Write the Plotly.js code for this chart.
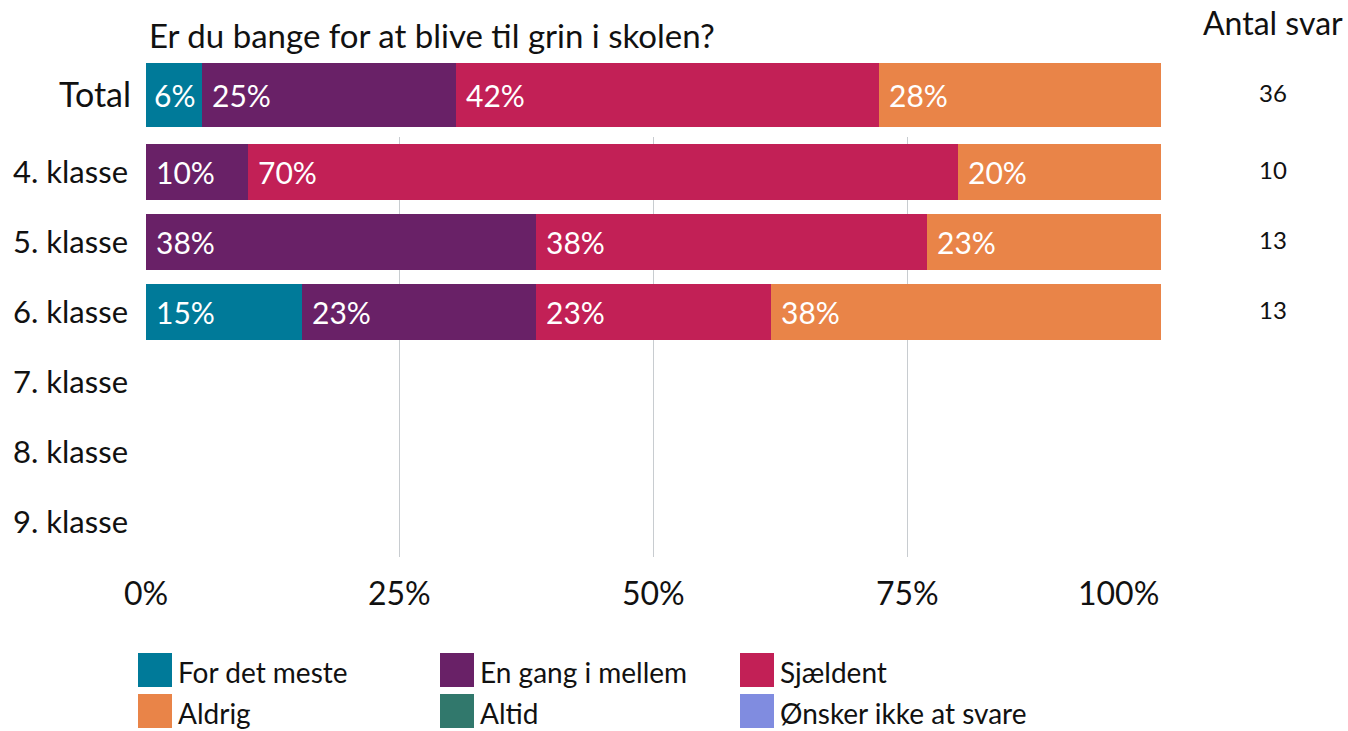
<!DOCTYPE html>
<html>
<head>
<meta charset="utf-8">
<script src="https://cdn.plot.ly/plotly-3.0.1.min.js"></script>
<style>html,body{margin:0;padding:0;background:#fff;}#chart{width:1348px;height:731px;}</style>
</head>
<body>
<div id="chart"></div>
<script>
// ---- data ----
const title = "Er du bange for at blive til grin i skolen?";
const classes = ["4. klasse", "5. klasse", "6. klasse", "7. klasse", "8. klasse", "9. klasse"];
const seriesNames = ["For det meste", "En gang i mellem", "Sjældent", "Aldrig", "Altid", "Ønsker ikke at svare"];
const seriesColors = ["#007A99", "#692167", "#C22056", "#E98448", "#31786C", "#808CE0"];
// percent per series: [Total] and per class (4.-9. klasse)
const totalValues = [5.56, 25.0, 41.67, 27.78, null, null];
const forDetMeste   = [null, null, 15.38, null, null, null];
const enGangIMellem = [10.0, 38.46, 23.08, null, null, null];
const sjaeldent     = [70.0, 38.46, 23.08, null, null, null];
const aldrig        = [20.0, 23.08, 38.46, null, null, null];
const altid         = [null, null, null, null, null, null];
const oenskerIkke   = [null, null, null, null, null, null];
const classValues = [forDetMeste, enGangIMellem, sjaeldent, aldrig, altid, oenskerIkke];
const antalSvarTotal = 36;
const antalSvarClasses = [10, 13, 13, null, null, null];
const xTicks = [0, 25, 50, 75, 100];
const xTickLabels = ["0%", "25%", "50%", "75%", "100%"];

// ---- layout helpers ----
const W = 1348, H = 731;
const ML = 146, MR = 187;
const py = p => 1 - p / H;
const px = p => (p - ML) / (W - ML - MR);   // paper x is relative to the plot area
const FONT = "Lato, 'Open Sans', sans-serif";

const traces = [];
const annotations = [];
seriesNames.forEach((name, i) => {
  traces.push({
    type: "bar", orientation: "h", name: name,
    x: [totalValues[i]], y: ["Total"], xaxis: "x", yaxis: "y2",
    marker: {color: seriesColors[i], line: {width: 0}},
    textposition: "none",
    width: 1, showlegend: false, hoverinfo: "skip"
  });
  traces.push({
    type: "bar", orientation: "h", name: name,
    x: classValues[i], y: classes, xaxis: "x", yaxis: "y",
    marker: {color: seriesColors[i], line: {width: 0}},
    textposition: "none",
    width: 0.8, showlegend: false, hoverinfo: "skip"
  });
});

// bar value labels placed at the start of each stacked segment
function segLabels(rowVals, yref, yval) {
  let cum = 0;
  rowVals.forEach(v => {
    if (v == null || v === 0) return;
    const small = v < 8;
    annotations.push({xref: "x", yref: yref, x: small ? cum + v / 2 : cum, y: yval,
      xanchor: small ? "center" : "left", xshift: small ? 0 : 8, yanchor: "middle",
      text: Math.round(v) + "%", showarrow: false,
      font: {family: FONT, size: 30, color: "#ffffff"}});
    cum += v;
  });
}
segLabels(totalValues, "y2", "Total");
classes.forEach((c, ci) => segLabels(classValues.map(s => s[ci]), "y", c));

annotations.push({xref: "paper", yref: "paper", x: px(147), y: py(35), xanchor: "left", yanchor: "middle",
  text: title, showarrow: false, font: {family: FONT, size: 33, color: "#111"}});
annotations.push({xref: "paper", yref: "paper", x: px(1345), y: py(22), xanchor: "right", yanchor: "middle",
  text: "Antal svar", showarrow: false, font: {family: FONT, size: 32, color: "#111"}});
annotations.push({xref: "paper", yref: "y2", x: px(1273), y: "Total", xanchor: "center", yanchor: "middle", yshift: 2,
  text: String(antalSvarTotal), showarrow: false, font: {family: FONT, size: 24, color: "#111"}});
classes.forEach((c, i) => {
  if (antalSvarClasses[i] != null) {
    annotations.push({xref: "paper", yref: "y", x: px(1273), y: c, xanchor: "center", yanchor: "middle", yshift: 3,
      text: String(antalSvarClasses[i]), showarrow: false, font: {family: FONT, size: 24, color: "#111"}});
  }
});

// x tick labels (last one kept inside the plot edge)
xTicks.forEach((t, i) => {
  const last = i === xTicks.length - 1;
  annotations.push({xref: "x", yref: "paper", x: t, y: py(592), xanchor: last ? "right" : "center", yanchor: "middle",
    text: xTickLabels[i], showarrow: false, font: {family: FONT, size: 32, color: "#111"}});
});

// manual legend (3 columns x 2 rows)
const shapes = [];
const colX = [138, 440, 740];
const rowY = [653, 694];
seriesNames.forEach((name, i) => {
  const col = i % 3, row = Math.floor(i / 3);
  const x0 = colX[col], y0 = rowY[row];
  shapes.push({type: "rect", xref: "paper", yref: "paper", x0: px(x0), x1: px(x0 + 34), y0: py(y0), y1: py(y0 + 34),
    fillcolor: seriesColors[i], line: {width: 0}});
  annotations.push({xref: "paper", yref: "paper", x: px(x0 + 38), y: py(y0 + 19), xanchor: "left", yanchor: "middle",
    text: name, showarrow: false, font: {family: FONT, size: 28, color: "#111"}});
});

const layout = {
  width: W, height: H,
  margin: {l: ML, r: MR, t: 0, b: 0, pad: 0},
  paper_bgcolor: "#fff", plot_bgcolor: "#fff",
  barmode: "stack", bargap: 0,
  showlegend: false,
  font: {family: FONT, color: "#111"},
  xaxis: {range: [0, 100], tickvals: xTicks, showticklabels: false, showgrid: true, gridcolor: "#c8ccd0", gridwidth: 1,
    zeroline: false, showline: false, ticks: "", anchor: "y", fixedrange: true},
  yaxis: {domain: [py(557), py(137)], type: "category", categoryorder: "array", categoryarray: classes,
    range: [5.5, -0.5], showgrid: false, zeroline: false, showline: false, ticks: "", ticklabelstandoff: 17,
    tickfont: {family: FONT, size: 31, color: "#111"}, fixedrange: true},
  yaxis2: {domain: [py(127), py(63)], type: "category", range: [-0.5, 0.5], anchor: "x",
    showgrid: false, zeroline: false, showline: false, ticks: "", ticklabelstandoff: 14,
    tickfont: {family: FONT, size: 34, color: "#111"}, fixedrange: true},
  annotations: annotations,
  shapes: shapes
};

Plotly.newPlot("chart", traces, layout, {displayModeBar: false, staticPlot: true});
</script>
</body>
</html>
